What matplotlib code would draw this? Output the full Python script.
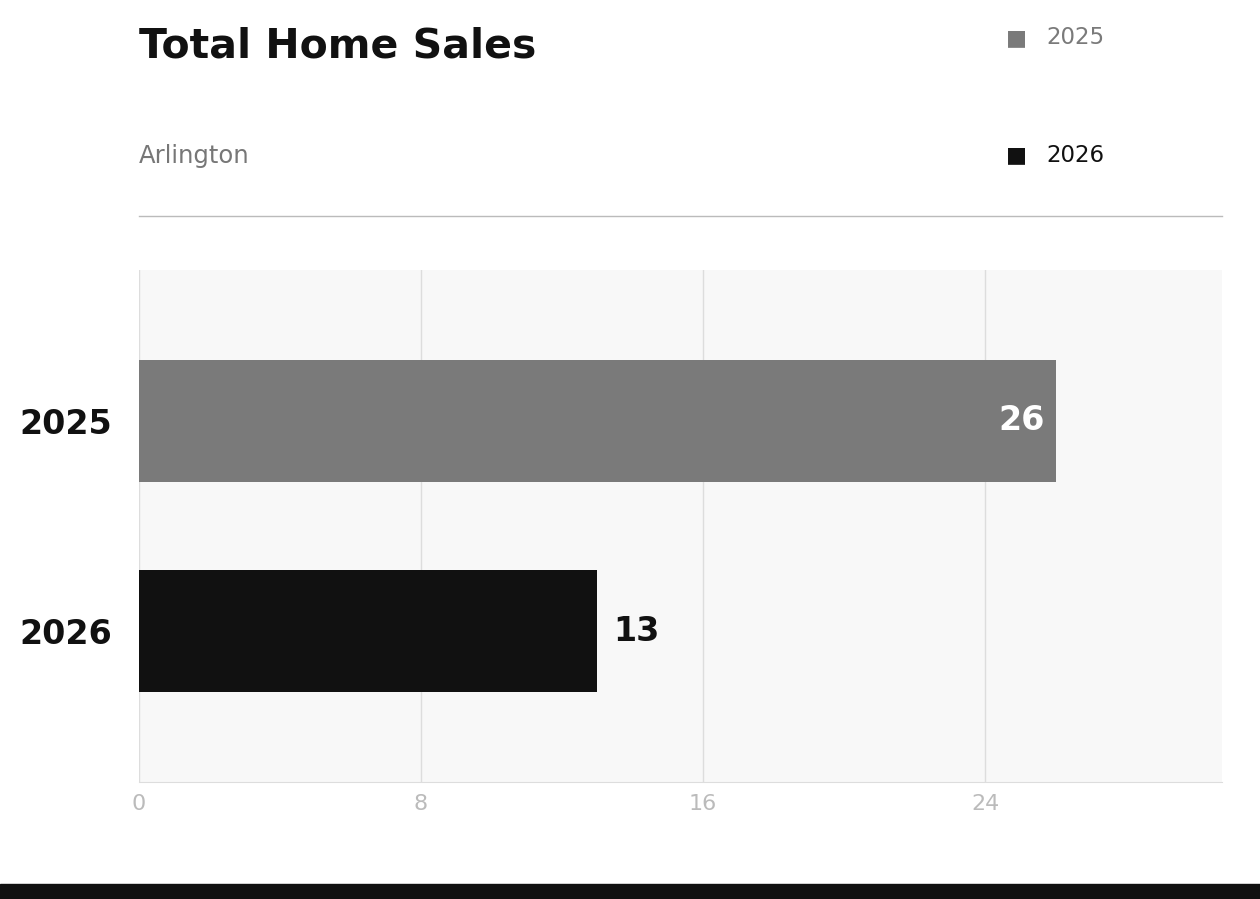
import matplotlib
matplotlib.use("Agg")
import matplotlib.pyplot as plt
from matplotlib.patches import Rectangle

categories = ["2025", "2026"]
values = [26, 13]
colors = ["#7a7a7a", "#111111"]
xticks = [0, 8, 16, 24]

W, H = 1260, 899
fig = plt.figure(figsize=(12.6, 8.99), dpi=100)
def fx(x): return x / W
def fy(y): return 1 - y / H

ax = fig.add_axes([fx(139), fy(782), (1222 - 139) / W, (782 - 270) / H])
ax.set_facecolor("#f8f8f8")
pos = list(range(len(categories)))
ax.barh(pos, values, height=0.58, color=colors, zorder=3)
ax.set_xlim(0, 1083 / 35.25)
ax.set_ylim(0.5 + 1.219, 0.5 - 1.219)
ax.set_yticks(pos)
ax.set_yticklabels(categories, fontsize=24, fontweight="bold", color="#111111")
ax.set_xticks(xticks)
ax.set_xticklabels([str(t) for t in xticks], fontsize=16, color="#bbbbbb")
ax.tick_params(axis="both", length=0)
ax.tick_params(axis="y", pad=19)
ax.tick_params(axis="x", pad=9)
ax.grid(axis="x", color="#dddddd", linewidth=1, zorder=0)
for s in ["top", "right", "left"]:
    ax.spines[s].set_visible(False)
ax.spines["bottom"].set_color("#dddddd")

for p, v in zip(pos, values):
    if v > 20:
        ax.text(v - 0.3, p, str(v), ha="right", va="center", fontsize=24, fontweight="bold", color="white", zorder=4)
    else:
        ax.text(v + 0.45, p, str(v), ha="left", va="center", fontsize=24, fontweight="bold", color="#111111", zorder=4)

fig.text(fx(139), fy(47), "Total Home Sales", fontsize=29.5, fontweight="bold", color="#111111", va="center", ha="left")
fig.text(fx(139), fy(156), "Arlington", fontsize=17.5, color="#777777", va="center", ha="left")
for cat, col, y in zip(categories, colors, [38, 155]):
    fig.text(fx(1006), fy(y), "■", fontsize=16, color=col, va="center", ha="left")
    fig.text(fx(1046), fy(y), cat, fontsize=16.5, color=col, va="center", ha="left")

fig.add_artist(plt.Line2D([fx(139), fx(1222)], [fy(216), fy(216)], color="#bbbbbb", linewidth=1))
fig.add_artist(Rectangle((0, 0), 1, 15 / H, transform=fig.transFigure, color="#111111"))

fig.savefig("out.png", dpi=100, facecolor="white")
